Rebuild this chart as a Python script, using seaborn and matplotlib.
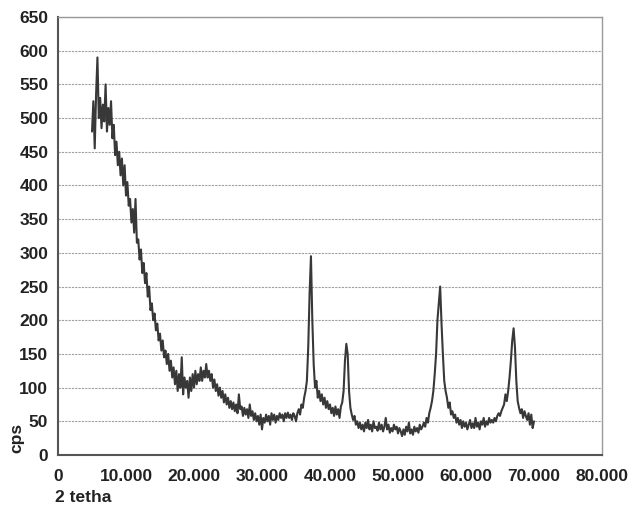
import numpy as np
import pandas as pd
import matplotlib
matplotlib.use('Agg')
import matplotlib.pyplot as plt
import seaborn as sns

# XRD scan, 0.2 deg steps from 5.0 to 70.0
cps = [
    480, 525, 455, 535, 590,
    500, 530, 485, 520, 495,
    550, 480, 515, 490, 525,
    470, 490, 445, 465, 430,
    450, 415, 440, 400, 430,
    385, 405, 370, 380, 345,
    365, 330, 380, 315, 320,
    290, 305, 270, 285, 255,
    270, 235, 250, 215, 225,
    200, 210, 185, 195, 170,
    180, 155, 170, 145, 155,
    135, 150, 125, 140, 115,
    130, 105, 125, 95, 120,
    100, 145, 90, 115, 100,
    110, 85, 115, 95, 120,
    100, 125, 105, 120, 110,
    130, 110, 125, 115, 135,
    115, 125, 110, 120, 100,
    112, 95, 105, 88, 100,
    85, 95, 78, 90, 75,
    85, 70, 80, 68, 78,
    65, 75, 62, 90, 68,
    72, 58, 70, 60, 68,
    55, 75, 58, 65, 52,
    62, 50, 58, 45, 60,
    38, 55, 48, 60, 50,
    58, 45, 62, 52, 60,
    48, 58, 52, 62, 55,
    60, 50, 62, 55, 63,
    55, 60, 52, 62, 58,
    50, 62, 68, 60, 75,
    70, 85, 95, 110, 160,
    240, 295, 200, 135, 100,
    110, 85, 95, 80, 90,
    75, 85, 70, 80, 68,
    75, 62, 70, 58, 72,
    60, 68, 55, 72, 78,
    95, 140, 165, 150, 95,
    70, 60, 52, 58, 45,
    50, 40, 48, 38, 45,
    35, 48, 40, 52, 38,
    45, 35, 50, 40, 42,
    36, 48, 38, 45, 35,
    42, 55, 38, 45, 33,
    40, 35, 45, 38, 42,
    32, 40, 35, 28, 38,
    30, 42, 35, 48, 32,
    38, 30, 42, 35, 40,
    33, 45, 38, 42, 48,
    42, 55, 48, 62, 70,
    80, 95, 120, 150, 200,
    225, 250, 195, 150, 110,
    95, 85, 70, 78, 60,
    65, 55, 60, 48, 55,
    45, 52, 40, 50, 42,
    48, 38, 45, 52, 40,
    47, 40, 55, 42, 48,
    38, 50, 45, 55, 42,
    50, 45, 55, 48, 52,
    48, 55, 50, 58, 62,
    58, 65, 70, 75, 90,
    80, 95, 115, 140, 170,
    188, 160, 110, 80, 70,
    62, 68, 55, 65, 58,
    52, 62, 45, 60, 40,
    50,
]
two_theta = np.linspace(5.0, 70.0, len(cps))

x_ticks = [0, 10, 20, 30, 40, 50, 60, 70, 80]
x_tick_labels = ['0', '10.000', '20.000', '30.000', '40.000',
                 '50.000', '60.000', '70.000', '80.000']
y_ticks = list(range(0, 651, 50))

df = pd.DataFrame({'two_theta': two_theta, 'cps': cps})

sns.set_style('white')
plt.rcParams['font.family'] = ['Liberation Sans', 'DejaVu Sans']

fig = plt.figure(figsize=(6.31, 5.05), dpi=100)
ax = fig.add_axes([58 / 631, 50 / 505, 544 / 631, 438 / 505])

sns.lineplot(data=df, x='two_theta', y='cps', ax=ax, color='#383838',
             linewidth=1.5, estimator=None, sort=False)

ax.set_xlim(0, 80)
ax.set_ylim(0, 650)
ax.set_xticks(x_ticks)
ax.set_xticklabels(x_tick_labels)
ax.set_yticks(y_ticks)
ax.yaxis.grid(True, linestyle=(0, (2, 1)), color='#a0a0a0', linewidth=0.8)
ax.xaxis.grid(False)

for side in ['left', 'bottom']:
    ax.spines[side].set_color('#555555')
    ax.spines[side].set_linewidth(1.5)
for side in ['top', 'right']:
    ax.spines[side].set_color('#999999')
    ax.spines[side].set_linewidth(1.0)

ax.tick_params(axis='both', direction='out', length=4, width=1.2,
               color='#555555', labelsize=12.5, labelcolor='#222222')
ax.tick_params(axis='x', pad=6)
ax.tick_params(axis='y', pad=3)
for lbl in ax.get_xticklabels() + ax.get_yticklabels():
    lbl.set_fontweight('bold')

ax.set_xlabel('')
ax.set_ylabel('')
fig.text(17 / 631, 1 - 438 / 505, 'cps', rotation=90, ha='center', va='center',
         fontsize=12.5, fontweight='bold', color='#222222')
fig.text(55 / 631, 1 - 497 / 505, '2 tetha', ha='left', va='center',
         fontsize=12.5, fontweight='bold', color='#222222')

fig.savefig('out.png', dpi=100)
